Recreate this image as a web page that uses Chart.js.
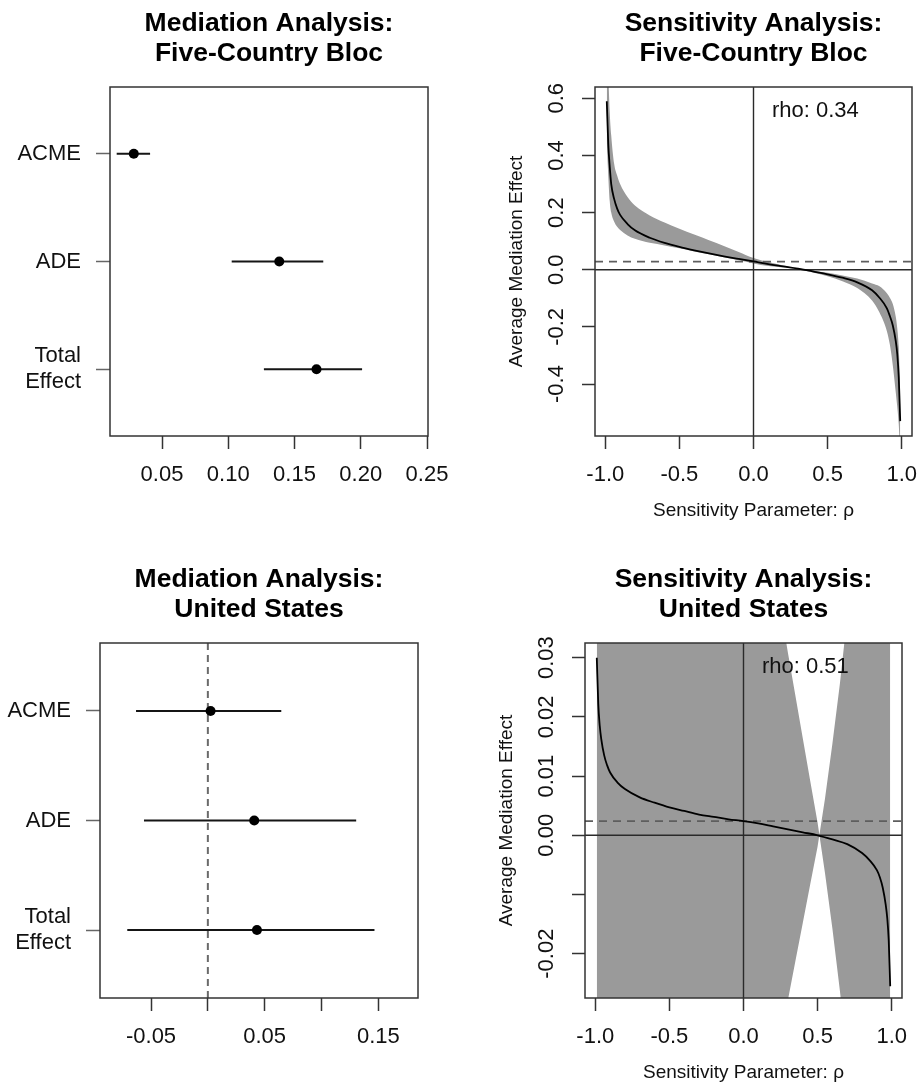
<!DOCTYPE html>
<html>
<head>
<meta charset="utf-8">
<script src="https://cdn.jsdelivr.net/npm/chart.js@4/dist/chart.umd.min.js"></script>
<style>
  html, body { margin: 0; padding: 0; background: #ffffff; }
  #wrap { position: relative; width: 919px; height: 1083px; background: #ffffff; }
  canvas { position: absolute; }
</style>
</head>
<body>
<div id="wrap">
  <canvas id="medBloc"></canvas>
  <canvas id="sensBloc"></canvas>
  <canvas id="medUS"></canvas>
  <canvas id="sensUS"></canvas>
</div>
<script>
// ---------------- DATA ----------------
const mediationRows = [1, 2, 3];
const mediationLabels = [['ACME'], ['ADE'], ['Total', 'Effect']];
const mediationRowRange = [0.38, 3.62];

// Five-Country Bloc mediation
const blocEstimate = [0.0287, 0.1385, 0.1666];
const blocLower    = [0.0158, 0.1026, 0.1269];
const blocUpper    = [0.0410, 0.1717, 0.2010];
const blocXRange   = [0.01075, 0.25075];
const blocXTicks   = [0.05, 0.10, 0.15, 0.20, 0.25];
const blocXTickLabels = ['0.05', '0.10', '0.15', '0.20', '0.25'];

// United States mediation
const usEstimate = [0.0024, 0.0408, 0.0432];
const usLower    = [-0.0632, -0.0562, -0.0709];
const usUpper    = [0.0646, 0.1305, 0.1466];
const usXRange   = [-0.0949, 0.1849];
const usXTicks   = [-0.05, 0.00, 0.05, 0.10, 0.15];
const usXTickLabels = ['-0.05', '', '0.05', '', '0.15'];

// Sensitivity analysis (rho grid)
const rhoGrid = [-0.99, -0.98, -0.97, -0.96, -0.94, -0.92, -0.90, -0.85, -0.80, -0.70, -0.60,
                 -0.50, -0.40, -0.30, -0.20, -0.10, 0.00, 0.10, 0.20, 0.30, 0.40, 0.50,
                 0.60, 0.70, 0.80, 0.85, 0.90, 0.92, 0.94, 0.96, 0.97, 0.98, 0.99];
const sensXRange = [-1.0695, 1.0695];
const sensXTicks = [-1.0, -0.5, 0.0, 0.5, 1.0];
const sensXTickLabels = ['-1.0', '-0.5', '0.0', '0.5', '1.0'];

// Bloc sensitivity
const blocSensACME = [0.590, 0.440, 0.360, 0.300, 0.247, 0.214, 0.192, 0.160, 0.138, 0.112, 0.094,
                      0.080, 0.068, 0.057, 0.047, 0.038, 0.029, 0.020, 0.012, 0.004, -0.006, -0.016,
                      -0.028, -0.044, -0.072, -0.098, -0.135, -0.162, -0.195, -0.250, -0.295, -0.375, -0.530];
const blocSensUpper = [0.950, 0.700, 0.550, 0.470, 0.370, 0.330, 0.300, 0.255, 0.225, 0.190, 0.165,
                       0.143, 0.123, 0.103, 0.083, 0.062, 0.041, 0.027, 0.015, 0.005, -0.003, -0.011,
                       -0.020, -0.031, -0.048, -0.058, -0.082, -0.098, -0.120, -0.165, -0.205, -0.270, -0.420];
const blocSensLower = [0.450, 0.330, 0.240, 0.200, 0.168, 0.150, 0.139, 0.120, 0.108, 0.094, 0.085,
                       0.075, 0.064, 0.054, 0.044, 0.033, 0.022, 0.013, 0.008, 0.002, -0.010, -0.023,
                       -0.040, -0.064, -0.108, -0.150, -0.215, -0.262, -0.335, -0.430, -0.480, -0.540, -0.650];
const blocSensYRange = [-0.582, 0.6396];
const blocSensYTicks = [-0.4, -0.2, 0.0, 0.2, 0.4, 0.6];
const blocSensYTickLabels = ['-0.4', '-0.2', '0.0', '0.2', '0.4', '0.6'];
const blocRhoNote = 'rho: 0.34';

// US sensitivity
const usSensACME = [0.0300, 0.0222, 0.0185, 0.0163, 0.0135, 0.0118, 0.0106, 0.0089, 0.0078, 0.0064, 0.0055,
                    0.0047, 0.0041, 0.0035, 0.0031, 0.0027, 0.0024, 0.0020, 0.0015, 0.0010, 0.0005, 0.0000,
                    -0.0007, -0.0015, -0.0030, -0.0042, -0.0059, -0.0071, -0.0089, -0.0118, -0.0140, -0.0178, -0.0255];
const usBandRho   = [-0.99, -0.50, 0.00, 0.20, 0.30, 0.35, 0.40, 0.45, 0.50, 0.55, 0.60, 0.65, 0.70, 0.80, 0.90, 0.99];
const usBandUpper = [0.200, 0.130, 0.070, 0.046, 0.0308, 0.0236, 0.0164, 0.0092, 0.0021, -0.0064, -0.0158, -0.0262, -0.0370, -0.060, -0.090, -0.150];
const usBandLower = [-0.180, -0.120, -0.065, -0.041, -0.0278, -0.0213, -0.0148, -0.0083, -0.0019, 0.0062, 0.0155, 0.0255, 0.0370, 0.060, 0.090, 0.150];
const usSensYRange = [-0.02749, 0.03248];
const usSensYTicks = [-0.02, -0.01, 0.00, 0.01, 0.02, 0.03];
const usSensYTickLabels = ['-0.02', '', '0.00', '0.01', '0.02', '0.03'];
const usRhoNote = 'rho: 0.51';
const rhoNoteX = 0.417;

const titles = {
  medBloc: ['Mediation Analysis:', 'Five-Country Bloc'],
  sensBloc: ['Sensitivity Analysis:', 'Five-Country Bloc'],
  medUS: ['Mediation Analysis:', 'United States'],
  sensUS: ['Sensitivity Analysis:', 'United States']
};
const sensXTitle = 'Sensitivity Parameter: \u03c1';
const sensYTitle = 'Average Mediation Effect';

// ---------------- LAYOUT / STYLE ----------------
const FONT = "'Liberation Sans', Arial, Helvetica, sans-serif";
const TICK_FONT = 22;
const XH = 50;
const layoutSpec = {
  medBloc:  { x: 0,   y: 0,   w: 459, h: 541, box: { l: 110, t: 87,  r: 428, b: 436 }, yW: 110 },
  sensBloc: { x: 459, y: 0,   w: 460, h: 541, box: { l: 136, t: 87,  r: 453, b: 436 }, yW: 20 },
  medUS:    { x: 0,   y: 541, w: 459, h: 542, box: { l: 100, t: 102, r: 418, b: 457 }, yW: 100 },
  sensUS:   { x: 459, y: 541, w: 460, h: 542, box: { l: 126, t: 102, r: 443, b: 457 }, yW: 20 }
};

Chart.defaults.font.family = FONT;
Chart.defaults.color = '#111';

const deco = {
  id: 'deco',
  afterDraw(chart, args, o) {
    const ctx = chart.ctx;
    const a = chart.chartArea;
    const cx = (a.left + a.right) / 2;
    ctx.save();
    ctx.strokeStyle = '#333';
    ctx.lineWidth = 1.5;
    ctx.strokeRect(a.left, a.top, a.right - a.left, a.bottom - a.top);
    ctx.fillStyle = '#000';
    ctx.textAlign = 'center';
    ctx.textBaseline = 'alphabetic';
    ctx.font = 'bold 26.5px ' + FONT;
    ctx.fillText(o.title[0], cx, a.top - 56);
    ctx.fillText(o.title[1], cx, a.top - 26);
    ctx.fillStyle = '#111';
    if (o.xTitle) {
      ctx.font = '19px ' + FONT;
      ctx.fillText(o.xTitle, cx, a.bottom + 80);
    }
    if (o.yTitle) {
      ctx.font = '19px ' + FONT;
      ctx.save();
      ctx.translate(a.left - 73, (a.top + a.bottom) / 2);
      ctx.rotate(-Math.PI / 2);
      ctx.fillText(o.yTitle, 0, 0);
      ctx.restore();
    }
    if (o.yTicks) {
      const ys = chart.scales.y;
      ctx.font = TICK_FONT + 'px ' + FONT;
      o.yTicks.forEach((v, i) => {
        const lab = o.yTickLabels[i];
        if (!lab) return;
        ctx.save();
        ctx.translate(a.left - 32, ys.getPixelForValue(v));
        ctx.rotate(-Math.PI / 2);
        ctx.fillText(lab, 0, 0);
        ctx.restore();
      });
    }
    if (o.note) {
      ctx.font = TICK_FONT + 'px ' + FONT;
      ctx.fillText(o.note, chart.scales.x.getPixelForValue(rhoNoteX), a.top + 29.5);
    }
    ctx.restore();
  }
};

function setupCanvas(id) {
  const s = layoutSpec[id];
  const c = document.getElementById(id);
  c.width = s.w; c.height = s.h;
  c.style.left = s.x + 'px'; c.style.top = s.y + 'px';
  c.style.width = s.w + 'px'; c.style.height = s.h + 'px';
  return { c, s, padding: { left: s.box.l - s.yW, top: s.box.t, right: s.w - s.box.r, bottom: s.h - s.box.b - XH } };
}

function xScale(range, ticks, labels) {
  return {
    type: 'linear', position: 'bottom', min: range[0], max: range[1],
    afterBuildTicks: (sc) => { sc.ticks = ticks.map(v => ({ value: v })); },
    afterFit: (sc) => { sc.height = XH; sc.paddingLeft = 0; sc.paddingRight = 0; },
    ticks: { autoSkip: false, maxRotation: 0, minRotation: 0, padding: 12.5,
             font: { size: TICK_FONT }, color: '#111',
             callback: (v, i) => labels[i] },
    grid: { display: true, drawOnChartArea: false, drawTicks: true, tickLength: 13,
            tickColor: '#333', tickWidth: 1.5 },
    border: { display: false }
  };
}

function baseOptions(padding, decoOpts, scales) {
  return {
    responsive: false, animation: false, devicePixelRatio: 1,
    layout: { padding },
    plugins: { legend: { display: false }, tooltip: { enabled: false }, deco: decoOpts },
    scales,
    elements: { line: { capBezierPoints: false } }
  };
}

function mediationChart(id, est, lo, hi, xRange, xTicks, xLabels, refZero) {
  const { c, s, padding } = setupCanvas(id);
  const datasets = [];
  datasets.push({
    data: est.map((v, i) => ({ x: v, y: mediationRows[i] })),
    showLine: false, pointRadius: 5, pointHoverRadius: 5,
    pointBackgroundColor: '#000', pointBorderColor: '#000', pointBorderWidth: 0, order: 0
  });
  mediationRows.forEach((r, i) => {
    datasets.push({
      data: [{ x: lo[i], y: r }, { x: hi[i], y: r }],
      borderColor: '#151515', borderWidth: 2, pointRadius: 0, order: 1
    });
  });
  if (refZero) {
    datasets.push({
      data: [{ x: 0, y: mediationRowRange[0] }, { x: 0, y: mediationRowRange[1] }],
      borderColor: '#6a6a6a', borderWidth: 2, borderDash: [7, 5], pointRadius: 0, order: 2
    });
  }
  const scales = {
    x: xScale(xRange, xTicks, xLabels),
    y: {
      type: 'linear', position: 'left', reverse: true,
      min: mediationRowRange[0], max: mediationRowRange[1],
      afterBuildTicks: (sc) => { sc.ticks = mediationRows.map(v => ({ value: v })); },
      afterFit: (sc) => { sc.width = s.yW; sc.paddingTop = 0; sc.paddingBottom = 0; },
      ticks: { autoSkip: false, padding: 15, font: { size: TICK_FONT }, color: '#111',
               callback: (v, i) => mediationLabels[i] },
      grid: { display: true, drawOnChartArea: false, drawTicks: true, tickLength: 14,
              tickColor: '#666', tickWidth: 1.5 },
      border: { display: false }
    }
  };
  return new Chart(c, {
    type: 'line',
    data: { datasets },
    options: baseOptions(padding, { title: titles[id] }, scales),
    plugins: [deco]
  });
}

function sensitivityChart(id, acme, hat, bandRho, bandUp, bandLo, smoothBand, yRange, yTicks, yLabels, note) {
  const { c, s, padding } = setupCanvas(id);
  const datasets = [
    { data: rhoGrid.map((r, i) => ({ x: r, y: acme[i] })), borderColor: '#000', borderWidth: 1.8,
      pointRadius: 0, cubicInterpolationMode: 'monotone', order: 0 },
    { data: [{ x: sensXRange[0], y: hat }, { x: sensXRange[1], y: hat }], borderColor: '#5e5e5e',
      borderWidth: 1.8, borderDash: [8, 6], pointRadius: 0, order: 1 },
    { data: [{ x: sensXRange[0], y: 0 }, { x: sensXRange[1], y: 0 }], borderColor: '#2a2a2a',
      borderWidth: 1.4, pointRadius: 0, order: 1 },
    { data: [{ x: 0, y: yRange[0] }, { x: 0, y: yRange[1] }], borderColor: '#2a2a2a',
      borderWidth: 1.4, pointRadius: 0, order: 1 },
    { data: bandRho.map((r, i) => ({ x: r, y: bandUp[i] })), borderWidth: 0, borderColor: 'rgba(0,0,0,0)',
      backgroundColor: '#9a9a9a', fill: 5, pointRadius: 0,
      cubicInterpolationMode: smoothBand ? 'monotone' : 'default', order: 3 },
    { data: bandRho.map((r, i) => ({ x: r, y: bandLo[i] })), borderWidth: 0, borderColor: 'rgba(0,0,0,0)',
      fill: false, pointRadius: 0,
      cubicInterpolationMode: smoothBand ? 'monotone' : 'default', order: 3 }
  ];
  const scales = {
    x: xScale(sensXRange, sensXTicks, sensXTickLabels),
    y: {
      type: 'linear', position: 'left', min: yRange[0], max: yRange[1],
      afterBuildTicks: (sc) => { sc.ticks = yTicks.map(v => ({ value: v })); },
      afterFit: (sc) => { sc.width = s.yW; sc.paddingTop = 0; sc.paddingBottom = 0; },
      ticks: { display: false },
      grid: { display: true, drawOnChartArea: false, drawTicks: true, tickLength: 13,
              tickColor: '#333', tickWidth: 1.5 },
      border: { display: false }
    }
  };
  return new Chart(c, {
    type: 'line',
    data: { datasets },
    options: baseOptions(padding, {
      title: titles[id], xTitle: sensXTitle, yTitle: sensYTitle,
      yTicks, yTickLabels: yLabels, note
    }, scales),
    plugins: [deco]
  });
}

mediationChart('medBloc', blocEstimate, blocLower, blocUpper, blocXRange, blocXTicks, blocXTickLabels, false);
sensitivityChart('sensBloc', blocSensACME, blocEstimate[0], rhoGrid, blocSensUpper, blocSensLower, true,
                 blocSensYRange, blocSensYTicks, blocSensYTickLabels, blocRhoNote);
mediationChart('medUS', usEstimate, usLower, usUpper, usXRange, usXTicks, usXTickLabels, true);
sensitivityChart('sensUS', usSensACME, usEstimate[0], usBandRho, usBandUpper, usBandLower, false,
                 usSensYRange, usSensYTicks, usSensYTickLabels, usRhoNote);
</script>
</body>
</html>
